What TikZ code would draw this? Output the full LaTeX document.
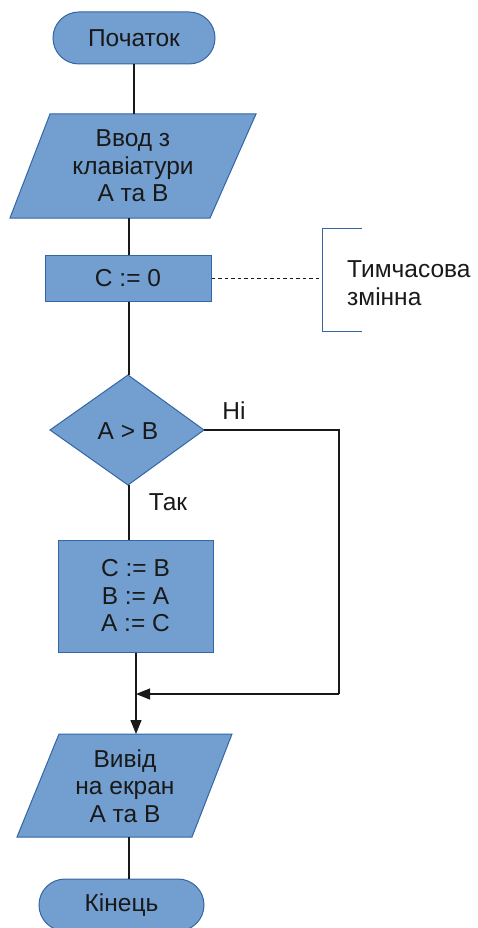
\documentclass[tikz,border=0pt]{standalone}
\usepackage{fontspec}
\setmainfont{Liberation Sans}
\usetikzlibrary{arrows.meta}
\definecolor{boxfill}{HTML}{729FCF}
\definecolor{boxline}{HTML}{3465A4}
\tikzset{
  shapefill/.style={fill=boxfill, draw=boxline, line width=1pt},
  txt/.style={font=\fontsize{24.5}{27.5}\selectfont, align=center, inner sep=0pt, text=black!90},
  conn/.style={draw=black!90, line width=1.2pt},
  arr/.style={conn, -{Triangle[length=14pt,width=11pt]}},
  term/.style={shapefill, rounded corners=26pt, minimum height=52pt, inner sep=0pt, txt}
}
\begin{document}
\begin{tikzpicture}[x=1pt,y=-1pt]
\useasboundingbox (0,0) rectangle (477,928);
\begin{scope}
\clip (0,0) rectangle (477,928);
% start
\node[term, minimum width=162pt] (start) at (134,38) {Початок};
% input
\filldraw[shapefill] (50,114) -- (256,114) -- (210,218) -- (10,218) -- cycle;
\node[txt] (inp) at (133,166) {Ввод з\\клавіатури\\А та В};
\coordinate (inTop) at (134,114);
\coordinate (inBot) at (129,218);
% C := 0
\node[shapefill, minimum width=166pt, minimum height=46pt, inner sep=0pt, txt] (c0) at (128,278) {C := 0};
% comment
\draw[boxline, line width=1pt] (362,228) -- (322,228) -- (322,331) -- (362,331);
\coordinate (brk) at (322,278);
\node[txt, align=left, anchor=west] (note) at (347,283) {Тимчасова\\змінна};
\draw[conn, line width=0.9pt, dash pattern=on 3.5pt off 3pt] (c0.east) -- (brk);
% decision
\filldraw[shapefill] (128,375) -- (204,430) -- (128,485) -- (50,430) -- cycle;
\node[txt] (dec) at (128,431) {A > B};
\coordinate (dTop) at (128,375);
\coordinate (dRight) at (204,430);
\coordinate (dBot) at (129,485);
\node[txt] (no) at (234,411) {Ні};
\node[txt] (yes) at (168,502) {Так};
% swap
\node[shapefill, minimum width=155pt, minimum height=112pt, inner sep=0pt, txt] (swap) at (135.5,596) {C := B\\B := A\\A := C};
% output
\filldraw[shapefill] (59,734) -- (232,734) -- (192,837) -- (17,837) -- cycle;
\node[txt] (out) at (125,786) {Вивід\\на екран\\А та В};
\coordinate (oTop) at (136,734);
\coordinate (oBot) at (129,837);
% end
\node[term, minimum width=165pt] (end) at (121.5,905) {Кінець};
% connectors
\coordinate (j) at (136,694);
\coordinate (r1) at (339,430);
\coordinate (r2) at (339,694);
\draw[conn] (start.south) -- (inTop);
\draw[conn] (inBot) -- (inBot |- c0.north);
\draw[conn] (c0.south -| inBot) -- (dTop -| inBot);
\draw[conn] (dBot) -- (dBot |- swap.north);
\draw[conn] (dRight) -- (r1) -- (r2);
\draw[arr] (r2) -- (j);
\draw[arr] (swap.south -| j) -- (oTop);
\draw[conn] (oBot) -- (oBot |- end.north);
\end{scope}
\end{tikzpicture}
\end{document}
